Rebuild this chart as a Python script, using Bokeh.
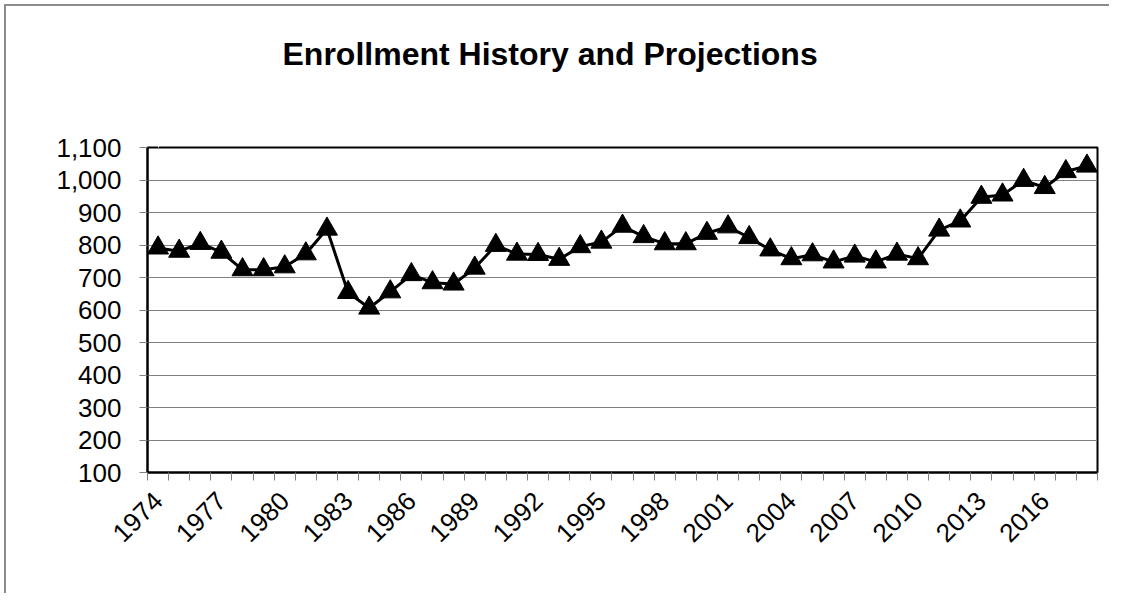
from bokeh.plotting import figure
from bokeh.models import Range1d, FixedTicker, NumeralTickFormatter, ColumnDataSource, LinearAxis
from bokeh.embed import file_html
from bokeh.resources import INLINE
import math

years = list(range(1974, 2019))
enrollment = [791, 781, 805, 778, 724, 724, 733, 773, 849, 654,
              606, 656, 709, 684, 680, 729, 799, 772, 771, 756,
              795, 809, 858, 826, 804, 804, 836, 856, 823, 785,
              758, 770, 748, 766, 748, 772, 758, 846, 874, 947,
              954, 999, 977, 1026, 1043]
label_years = list(range(1974, 2019, 3))
y_ticks = list(range(100, 1101, 100))
title_text = "Enrollment History and Projections"

FONT = "Liberation Sans"

src = ColumnDataSource(dict(x=years, y=enrollment))

p = figure(width=1118, height=593, output_backend="svg", toolbar_location=None,
           title=title_text,
           x_range=Range1d(years[0] - 0.5, years[-1] + 0.5),
           y_range=Range1d(y_ticks[0], y_ticks[-1]),
           min_border_left=147, min_border_right=21,
           min_border_top=147, min_border_bottom=121)

# thin grey chart-area border on the left and top (seen through a transparent canvas border)
p.styles = {
    "background-color": "white",
    "background-image": "linear-gradient(#8c8c8c, #8c8c8c), linear-gradient(#8c8c8c, #8c8c8c)",
    "background-position": "4px 4px, 4px 4px",
    "background-size": "2px 600px, 1105px 2px",
    "background-repeat": "no-repeat, no-repeat",
}
p.border_fill_color = None

# invisible spacer between the plot area and the title (white tick on white)
spacer = LinearAxis(ticker=FixedTicker(ticks=[years[0]]), axis_line_color=None,
                    major_tick_line_color="white", minor_tick_line_color=None,
                    major_tick_in=0, major_tick_out=71, minor_tick_in=0, minor_tick_out=0,
                    major_label_standoff=0, major_label_text_font_size="1px",
                    major_label_overrides={years[0]: ""})
p.add_layout(spacer, "above")

p.title.text_font = FONT
p.title.text_font_style = "bold"
p.title.text_font_size = "32px"
p.title.text_color = "black"
p.title.align = "left"
p.title.offset = 135
p.title.standoff = 10

p.background_fill_color = "white"
p.outline_line_color = "black"
p.outline_line_width = 2

p.xgrid.grid_line_color = None
p.ygrid.grid_line_color = "#808080"
p.ygrid.grid_line_width = 1
p.ygrid.ticker = FixedTicker(ticks=y_ticks)

# x axis
xa = p.below[0]
xa.ticker = FixedTicker(ticks=label_years,
                        minor_ticks=[y - 0.5 for y in years] + [years[-1] + 0.5])
xa.major_tick_line_color = None
xa.minor_tick_line_color = "#808080"
xa.minor_tick_in = 0
xa.minor_tick_out = 8
xa.axis_line_color = "black"
xa.axis_line_width = 2
xa.major_label_orientation = math.pi / 4
xa.major_label_text_font = FONT
xa.major_label_text_font_size = "26px"
xa.major_label_text_color = "black"
xa.major_label_standoff = 16

# y axis
ya = p.left[0]
ya.ticker = FixedTicker(ticks=y_ticks)
ya.formatter = NumeralTickFormatter(format="0,0")
ya.major_tick_line_color = "#808080"
ya.major_tick_in = 0
ya.major_tick_out = 8
ya.minor_tick_line_color = None
ya.axis_line_color = "black"
ya.axis_line_width = 2
ya.major_label_text_font = FONT
ya.major_label_text_font_size = "26px"
ya.major_label_text_color = "black"
ya.major_label_standoff = 18

p.line("x", "y", source=src, line_color="black", line_width=3)
p.scatter("x", "y", source=src, marker="triangle", size=21,
          fill_color="black", line_color="black")

open("out.html", "w").write(file_html(p, INLINE))
